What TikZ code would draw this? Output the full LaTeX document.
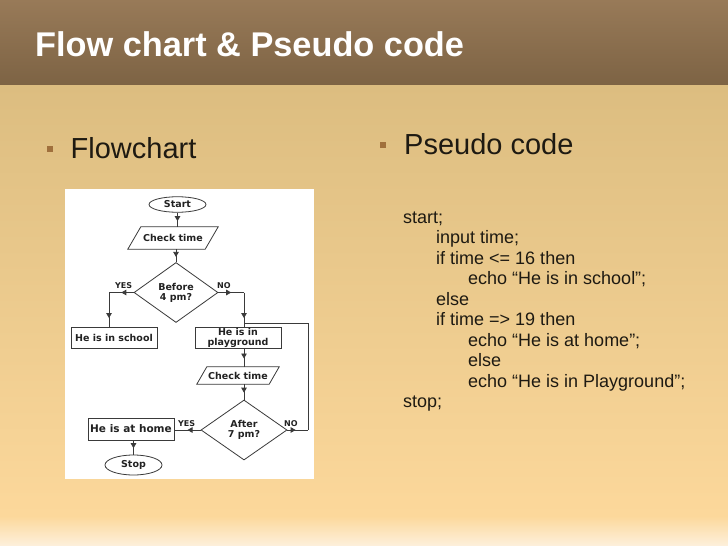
\documentclass[tikz,border=0pt]{standalone}
\usepackage{fontspec}
\setmainfont{Liberation Sans}
\newfontfamily\fcfont{DejaVu Sans}
\usetikzlibrary{shapes.geometric,arrows.meta,decorations.markings,calc}
\definecolor{hdtop}{HTML}{987A58}
\definecolor{hdbot}{HTML}{7D6344}
\definecolor{bdtop}{HTML}{DCBD80}
\definecolor{bdmid}{HTML}{FCD89B}
\definecolor{bdbot}{HTML}{FDF0DC}
\definecolor{bullet}{HTML}{A0703C}
\definecolor{txt}{HTML}{1E1A12}
\definecolor{flgray}{HTML}{3A3A3A}
\definecolor{fctext}{HTML}{222222}
\begin{document}
\begin{tikzpicture}[x=1pt,y=-1pt,
  fcfontstyle/.style={font=\fcfont\bfseries\fontsize{#1}{10}\selectfont, text=fctext},
  fline/.style={draw=flgray, line width=0.8pt},
  arr/.style={fline, postaction={decorate},
    decoration={markings, mark=at position #1 with {\arrow[flgray]{Triangle[length=5pt,width=5.5pt]}}}},
  arr/.default=0.5,
  term/.style={ellipse, fline, inner sep=0pt, minimum width=57pt, fcfontstyle=9.5},
  procbox/.style={rectangle, fline, inner sep=0pt, minimum width=86pt, minimum height=21pt, align=center, fcfontstyle=9.5},
  iobox/.style={rectangle, inner sep=0pt, fcfontstyle=9.5},
  decbox/.style={diamond, fline, inner sep=0pt, minimum width=84pt, minimum height=60pt, align=center, fcfontstyle=9.5},
  lab/.style={anchor=base west, inner sep=0pt, fcfontstyle=8},
  bigtext/.style={anchor=base west, inner sep=0pt, font=\fontsize{29}{32}\selectfont, text=txt},
  code/.style={anchor=base west, inner sep=0pt, font=\fontsize{18}{20}\selectfont, text=txt}
]
\useasboundingbox (0,0) rectangle (728,546);
% background
\shade[top color=hdtop, bottom color=hdbot] (0,0) rectangle (728,85);
\shade[top color=bdtop, bottom color=bdmid] (0,85) rectangle (728,516);
\shade[top color=bdmid, bottom color=bdbot] (0,516) rectangle (728,546);
% title
\node[anchor=base west, inner sep=0pt, text=white, font=\bfseries\fontsize{34.3}{36}\selectfont] (title) at (35,56) {Flow chart \& Pseudo code};
% bullets
\fill[bullet] (47,146) rectangle (53,152);
\node[bigtext] (fc) at (70.5,158) {Flowchart};
\fill[bullet] (380,142) rectangle (386,148);
\node[bigtext] (pc) at (404,154) {Pseudo code};
% white panel
\fill[white] (65,189) rectangle (314,479);
% flowchart
\node[term, minimum height=15.5pt] (start) at (177.5,204.5) {Start};
\node[iobox, minimum width=77pt, minimum height=22pt] (chk1) at (173,238) {Check time};
\draw[fline] ([xshift=-6.5pt]chk1.south west) -- ([xshift=6.5pt]chk1.north west) -- ([xshift=6.5pt]chk1.north east) -- ([xshift=-6.5pt]chk1.south east) -- cycle;
\node[decbox] (d1) at (176,292.5) {Before\\4 pm?};
\node[procbox] (school) at (114,337.5) {He is in school};
\node[procbox] (play) at (238,337.5) {};
\node[inner sep=0pt, align=center, fcfontstyle=9.5] (playtxt) at ([yshift=-0.5pt]play.center) {He is in\\playground};
\node[iobox, minimum width=72pt, minimum height=17pt] (chk2) at (238,375.5) {Check time};
\draw[fline] ([xshift=-5pt]chk2.south west) -- ([xshift=5pt]chk2.north west) -- ([xshift=5pt]chk2.north east) -- ([xshift=-5pt]chk2.south east) -- cycle;
\node[decbox, minimum width=86pt] (d2) at (244,430) {After\\7 pm?};
\node[procbox, minimum height=22pt, fcfontstyle=10.5] (home) at (131,429) {He is at home};
\node[term, minimum height=20pt] (stop) at (133.5,465) {Stop};
% coordinates
\coordinate (c1) at (109,292.5);
\coordinate (c2) at (244,292.5);
\coordinate (j) at (244,323);
\coordinate (lr) at (308,430);
\coordinate (ur) at (308,323);
% connectors
\draw[arr=0.6] (start.south) -- (start.south |- chk1.north);
\draw[arr=0.6] (d1.north |- chk1.south) -- (d1.north);
\draw[arr=0.5] (d1.west) -- (c1);
\draw[arr=0.75] (c1) -- (c1 |- school.north);
\draw[arr=0.5] (d1.east) -- (c2);
\draw[arr=0.75] (c2) -- (c2 |- play.north);
\draw[arr=0.55] (c2 |- play.south) -- (c2 |- chk2.north);
\draw[arr=0.55] (c2 |- chk2.south) -- (d2.north);
\draw[arr=0.5] (d2.west) -- (d2.west -| home.east);
\draw[arr=0.4] (d2.east) -- (lr);
\draw[fline] (lr) -- (ur) -- (j);
\draw[arr=0.55] (stop.north |- home.south) -- (stop.north);
% labels
\node[lab] (yes1) at (115,288.5) {YES};
\node[lab] (no1) at (217,288.5) {NO};
\node[lab] (yes2) at (178,426.5) {YES};
\node[lab] (no2) at (284,426.5) {NO};
% pseudo code
\node[code] (l1) at (403,223) {start;};
\node[code] (l2) at (436,243.5) {input time;};
\node[code] (l3) at (436,264) {if time <= 16 then};
\node[code] (l4) at (468,284.5) {echo “He is in school”;};
\node[code] (l5) at (436,305) {else};
\node[code] (l6) at (436,325.5) {if time => 19 then};
\node[code] (l7) at (468,346) {echo “He is at home”;};
\node[code] (l8) at (468,366.5) {else};
\node[code] (l9) at (468,387) {echo “He is in Playground”;};
\node[code] (l10) at (403,407.5) {stop;};
\end{tikzpicture}
\end{document}
